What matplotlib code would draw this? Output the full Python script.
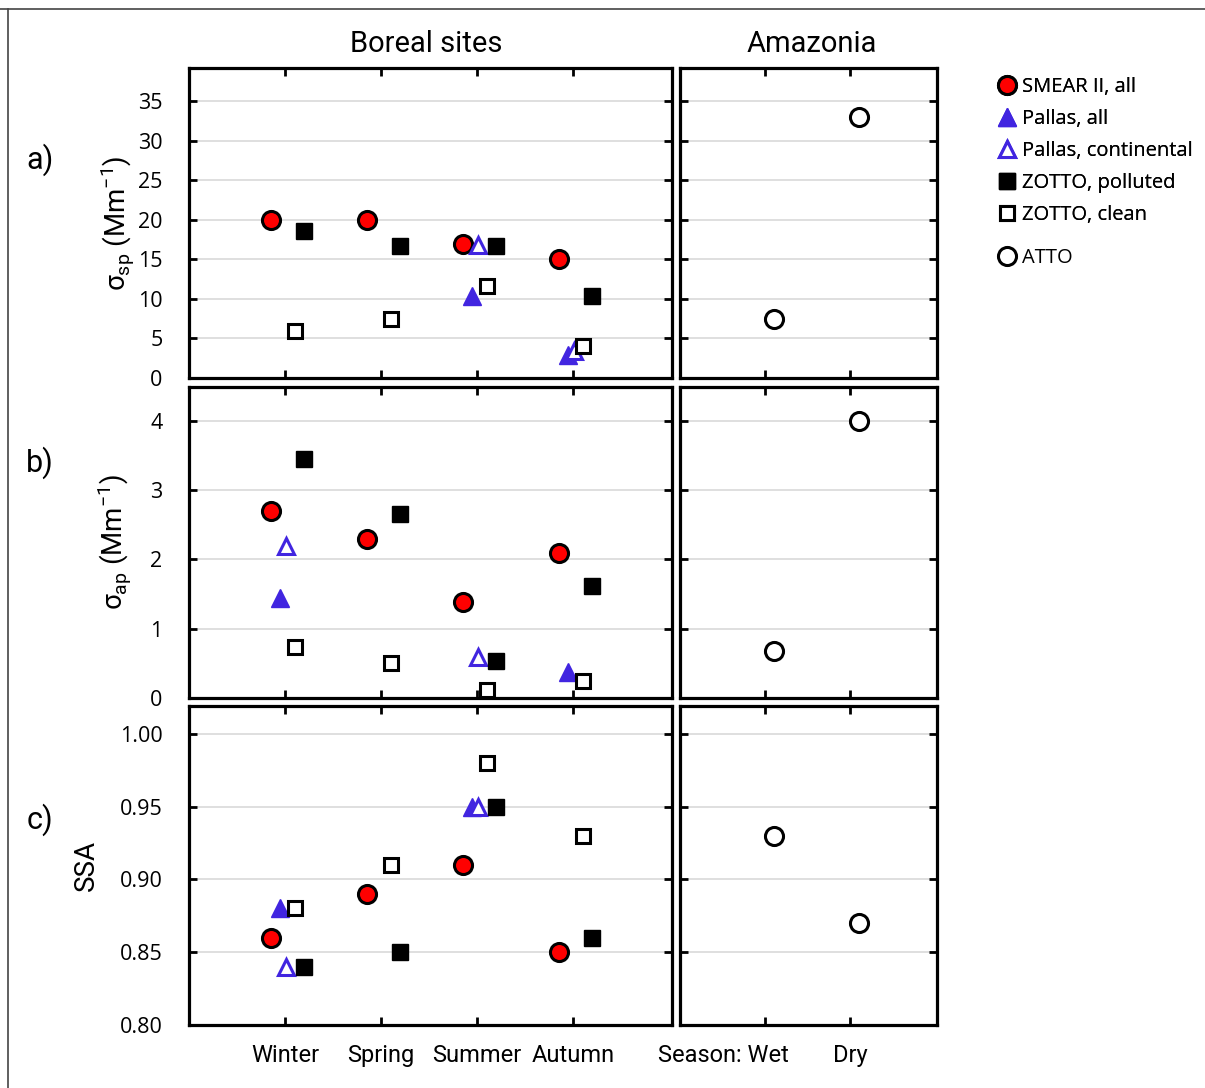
import numpy as np
import matplotlib
matplotlib.use("Agg")
import matplotlib.pyplot as plt
from matplotlib.lines import Line2D
from matplotlib.transforms import ScaledTranslation

plt.rcParams['font.family'] = ['Open Sans', 'DejaVu Sans']
plt.rcParams['mathtext.fontset'] = 'custom'
plt.rcParams['mathtext.rm'] = 'Roboto'
narrow = ['Roboto', 'DejaVu Sans']

seasons = ["Winter", "Spring", "Summer", "Autumn"]
amazon_seasons = ["Season: Wet", "Dry"]
nan = np.nan

# a) scattering coefficient (Mm-1)
sp_smear = [20, 20, 17, 15]
sp_pallas_all = [nan, nan, 10.4, 2.9]
sp_pallas_cont = [nan, nan, 16.8, 3.4]
sp_zotto_poll = [18.6, 16.7, 16.7, 10.4]
sp_zotto_clean = [5.9, 7.5, 11.6, 4.0]
sp_atto = [7.5, 33]

# b) absorption coefficient (Mm-1)
ap_smear = [2.7, 2.29, 1.39, 2.1]
ap_pallas_all = [1.45, nan, nan, 0.37]
ap_pallas_cont = [2.2, nan, 0.59, nan]
ap_zotto_poll = [3.45, 2.66, 0.54, 1.61]
ap_zotto_clean = [0.74, 0.5, 0.12, 0.25]
ap_atto = [0.68, 4.0]

# c) single scattering albedo
ssa_smear = [0.86, 0.89, 0.91, 0.85]
ssa_pallas_all = [0.88, nan, 0.95, nan]
ssa_pallas_cont = [0.84, nan, 0.95, nan]
ssa_zotto_poll = [0.84, 0.85, 0.95, 0.86]
ssa_zotto_clean = [0.88, 0.91, 0.98, 0.93]
ssa_atto = [0.93, 0.87]

red = '#ff0000'
blue = '#4125e0'

styles = {
    'SMEAR II, all': dict(marker='o', ms=13, mfc=red, mec='black', mew=2.2, off=-0.15),
    'Pallas, all': dict(marker='^', ms=13, mfc=blue, mec=blue, mew=1, off=-0.05),
    'Pallas, continental': dict(marker='^', ms=11.5, mfc='white', mec=blue, mew=2.2, off=0.01),
    'ZOTTO, polluted': dict(marker='s', ms=12, mfc='black', mec='black', mew=1, off=0.2),
    'ZOTTO, clean': dict(marker='s', ms=10, mfc='white', mec='black', mew=2.2, off=0.1),
}
atto_style = dict(marker='o', ms=13, mfc='white', mec='black', mew=2.2)

rows = [
    ([sp_smear, sp_pallas_all, sp_pallas_cont, sp_zotto_poll, sp_zotto_clean], sp_atto,
     (0, 39.2), np.arange(0, 36, 5), ['%d' % v for v in np.arange(0, 36, 5)],
     r'σ$_{\mathrm{sp}}$ (Mm$^{\mathrm{-1}}$)', -0.11),
    ([ap_smear, ap_pallas_all, ap_pallas_cont, ap_zotto_poll, ap_zotto_clean], ap_atto,
     (0, 4.49), np.arange(0, 5, 1), ['%d' % v for v in range(5)],
     r'σ$_{\mathrm{ap}}$ (Mm$^{\mathrm{-1}}$)', -0.115),
    ([ssa_smear, ssa_pallas_all, ssa_pallas_cont, ssa_zotto_poll, ssa_zotto_clean], ssa_atto,
     (0.8, 1.019), np.arange(0.80, 1.001, 0.05), ['%.2f' % v for v in np.arange(0.80, 1.001, 0.05)],
     'SSA', -0.184),
]

fig = plt.figure(figsize=(12.05, 10.88), dpi=100)

# axes rectangles (pixels from top)
row_px = [(68, 378), (387, 698), (706, 1025)]
W, H = 1205, 1088


def style_axis(ax, yticks, ylim):
    ax.set_ylim(*ylim)
    ax.set_yticks(yticks)
    ax.grid(axis='y', color='#d9d9d9', lw=1.2, zorder=0)
    ax.set_axisbelow(True)
    for s in ax.spines.values():
        s.set_linewidth(2.3)
    ax.tick_params(direction='in', length=6, width=2, top=True, right=True,
                   labelsize=15.5, pad=19)
    ax.tick_params(axis='x', pad=14)


x = np.arange(1, 5)
x2 = np.arange(1, 3)
for i, (series, atto, ylim, yticks, ylabels, ylabel, lx) in enumerate(rows):
    top, bot = row_px[i]
    axl = fig.add_axes([189 / W, 1 - bot / H, (672 - 189) / W, (bot - top) / H])
    axr = fig.add_axes([680 / W, 1 - bot / H, (937 - 680) / W, (bot - top) / H])

    for (name, st), vals in zip(styles.items(), series):
        axl.plot(x + st['off'], vals, ls='none', marker=st['marker'], ms=st['ms'],
                 mfc=st['mfc'], mec=st['mec'], mew=st['mew'], label=name, zorder=3)
    axr.plot(x2 + 0.1, atto, ls='none', label='ATTO', zorder=3, **atto_style)

    axl.set_xlim(0, 5.03)
    axl.set_xticks(x)
    axr.set_xlim(0, 3.02)
    axr.set_xticks(x2)
    style_axis(axl, yticks, ylim)
    style_axis(axr, yticks, ylim)
    axl.set_yticklabels(ylabels)
    axr.set_yticklabels([])
    axl.set_ylabel(ylabel, fontsize=20, family=narrow)
    axl.yaxis.set_label_coords(lx, 0.5)

    if i < 2:
        axl.set_xticklabels([])
        axr.set_xticklabels([])
    else:
        axl.set_xticklabels(seasons, fontsize=17, family=narrow)
        labs = axr.set_xticklabels(amazon_seasons, fontsize=17, family=narrow)
        # "Season: Wet" sits left of the Wet tick, as in the original
        labs[0].set_transform(labs[0].get_transform() +
                              ScaledTranslation(-0.42, 0, fig.dpi_scale_trans))
    if i == 0:
        h1, l1 = axl.get_legend_handles_labels()
        h2, l2 = axr.get_legend_handles_labels()

for lbl, y in zip(['a)', 'b)', 'c)'], [160, 463, 820]):
    fig.text(40 / W, 1 - y / H, lbl, fontsize=22, ha='center', va='center', family=narrow)

fig.text(426 / W, 1 - 44 / H, 'Boreal sites', fontsize=21, ha='center', va='center', family=narrow)
fig.text(812 / W, 1 - 44 / H, 'Amazonia', fontsize=21, ha='center', va='center', family=narrow)

leg_kw = dict(loc='upper left', frameon=False, fontsize=14.5, handlelength=0.8,
              handletextpad=0.35, borderaxespad=0, borderpad=0)
leg1 = fig.legend(h1, l1, bbox_to_anchor=(999 / W, 1 - 77 / H), labelspacing=0.6, **leg_kw)
fig.add_artist(leg1)
fig.legend(h2, l2, bbox_to_anchor=(999 / W, 1 - 248 / H), **leg_kw)

# outer frame
fig.add_artist(Line2D([0, 1], [1 - 9 / H, 1 - 9 / H], transform=fig.transFigure, color='#444444', lw=1.2))
fig.add_artist(Line2D([8 / W, 8 / W], [0, 1 - 9 / H], transform=fig.transFigure, color='#444444', lw=1.2))

fig.savefig('out.png', dpi=100)
